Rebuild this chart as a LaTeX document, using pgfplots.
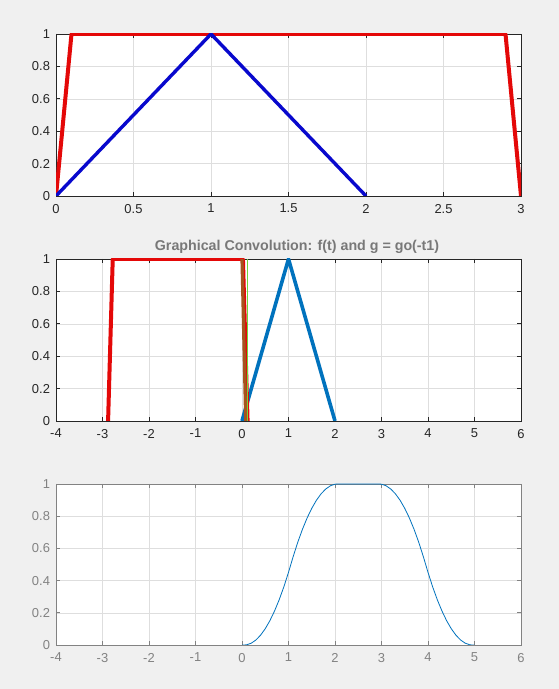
\documentclass[border=0pt]{standalone}
\usepackage{pgfplots}
\pgfplotsset{compat=1.18}
\usepackage{fontspec}
\setmainfont{Liberation Sans}
\definecolor{bg}{RGB}{240,240,240}
\definecolor{axc}{RGB}{38,38,38}
\definecolor{axg}{RGB}{130,130,130}
\definecolor{gridc}{RGB}{222,222,222}
\definecolor{mred}{RGB}{228,8,8}
\definecolor{mblue}{RGB}{8,8,205}
\definecolor{mlblue}{RGB}{0,114,189}
\definecolor{mbrown}{RGB}{165,85,30}
\definecolor{mgreen}{RGB}{110,215,60}
\definecolor{titc}{RGB}{120,120,120}
\pgfplotsset{mstyle/.style={
 scale only axis, width=465bp, height=162bp, anchor=south west,
 axis background/.style={fill=white},
 axis line style={axc, line width=0.6bp},
 tick style={axc, line width=0.6bp},
 major tick length=4bp,
 tick align=inside,
 grid=major, major grid style={gridc, line width=0.5bp},
 tick label style={font=\fontsize{13}{15}\selectfont, text=axc},
 /pgf/number format/assume math mode=true,
 ymin=0, ymax=1, ytick={0,0.2,0.4,0.6,0.8,1},
 yticklabel style={xshift=-2.5bp},
 xticklabel style={yshift=-4.5bp},
}}
\begin{document}
\begin{tikzpicture}
\fill[bg] (0,0) rectangle (559bp,689bp);
% Plot 1
\begin{axis}[mstyle, at={(56bp,493bp)}, xmin=0, xmax=3, xtick={0,0.5,1,1.5,2,2.5,3}]
\addplot[mred, line width=4bp, line join=round] coordinates {(0,0) (0.1,1) (2.9,1) (3,0)};
\addplot[mblue, line width=3.4bp, line join=round] coordinates {(0,0) (1,1) (2,0)};
\end{axis}
% Plot 2
\begin{axis}[mstyle, at={(56bp,268bp)}, xmin=-4, xmax=6, xtick={-4,-3,-2,-1,0,1,2,3,4,5,6},
 title={Graphical Convolution: f(t) and g = go(-t1)},
 title style={font=\bfseries\fontsize{14.3}{16}\selectfont, text=titc, at={(0.5,1)}, anchor=south, yshift=-4.5bp, xshift=8.5bp}]
\addplot[mlblue, line width=3.6bp, line join=round] coordinates {(0,0) (1,1) (2,0)};
\addplot[mred, line width=4bp, line join=round] coordinates {(-2.88,0) (-2.78,1) (0.02,1) (0.12,0)};
\addplot[mbrown, line width=3.2bp] coordinates {(0,1) (0.08,0)};
\addplot[mgreen, line width=0.8bp] coordinates {(0.12,0) (0.12,1)};
\end{axis}
% Plot 3
\begin{axis}[mstyle, at={(56bp,44bp)}, height=161bp, xmin=-4, xmax=6, xtick={-4,-3,-2,-1,0,1,2,3,4,5,6},
 axis line style={axg, line width=0.6bp}, tick style={axg, line width=0.6bp},
 tick label style={font=\fontsize{13}{15}\selectfont, text=axg}]
\addplot[mlblue, line width=0.8bp] coordinates {
(0,0)(0.05,0)(0.1,0.00125)(0.2,0.01125)(0.3,0.03125)(0.4,0.06125)(0.5,0.10125)(0.6,0.15125)(0.7,0.21125)(0.8,0.28125)(0.9,0.36125)(1.0,0.45125)(1.1,0.54875)(1.2,0.63875)(1.3,0.71875)(1.4,0.78875)(1.5,0.84875)(1.6,0.89875)(1.7,0.93875)(1.8,0.96875)(1.9,0.98875)(2.0,0.99875)(2.05,1)(2.95,1)(3.0,0.99875)(3.1,0.98875)(3.2,0.96875)(3.3,0.93875)(3.4,0.89875)(3.5,0.84875)(3.6,0.78875)(3.7,0.71875)(3.8,0.63875)(3.9,0.54875)(4.0,0.45125)(4.1,0.36125)(4.2,0.28125)(4.3,0.21125)(4.4,0.15125)(4.5,0.10125)(4.6,0.06125)(4.7,0.03125)(4.8,0.01125)(4.9,0.00125)(4.95,0)(5,0)};
\end{axis}
\end{tikzpicture}
\end{document}
